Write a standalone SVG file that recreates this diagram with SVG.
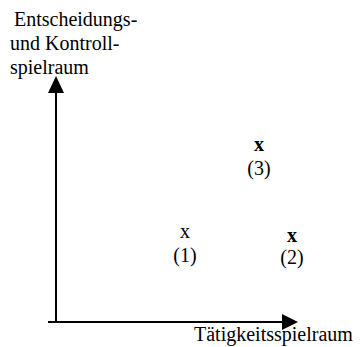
<svg xmlns="http://www.w3.org/2000/svg" width="360" height="347" viewBox="0 0 360 347">
<style>
text{font-family:"Liberation Serif","Times New Roman",serif;fill:#000;font-size:20px}
.pt{text-anchor:middle}
.b{font-weight:bold}
.ax{stroke:#000;stroke-width:2;fill:none}
</style>
<rect width="360" height="347" fill="#fff"/>
<g id="connectors">
<line class="ax" x1="56" y1="322" x2="56" y2="90"/>
<polygon points="56,76 48,93 64,93" fill="#000"/>
<line class="ax" x1="48" y1="322" x2="284" y2="322"/>
<polygon points="298,322 282,314 282,330" fill="#000"/>
</g>
<g id="y-label">
<text x="14" y="26">Entscheidungs-</text>
<text x="10" y="50">und Kontroll-</text>
<text x="10" y="74">spielraum</text>
</g>
<g id="x-label">
<text x="194" y="341">Tätigkeitsspielraum</text>
</g>
<g id="p1">
<text class="pt" x="185" y="238">x</text>
<text class="pt" x="185" y="262">(1)</text>
</g>
<g id="p2">
<text class="pt b" x="292" y="242">x</text>
<text class="pt" x="292" y="264">(2)</text>
</g>
<g id="p3">
<text class="pt b" x="259" y="151">x</text>
<text class="pt" x="259" y="175">(3)</text>
</g>
</svg>
